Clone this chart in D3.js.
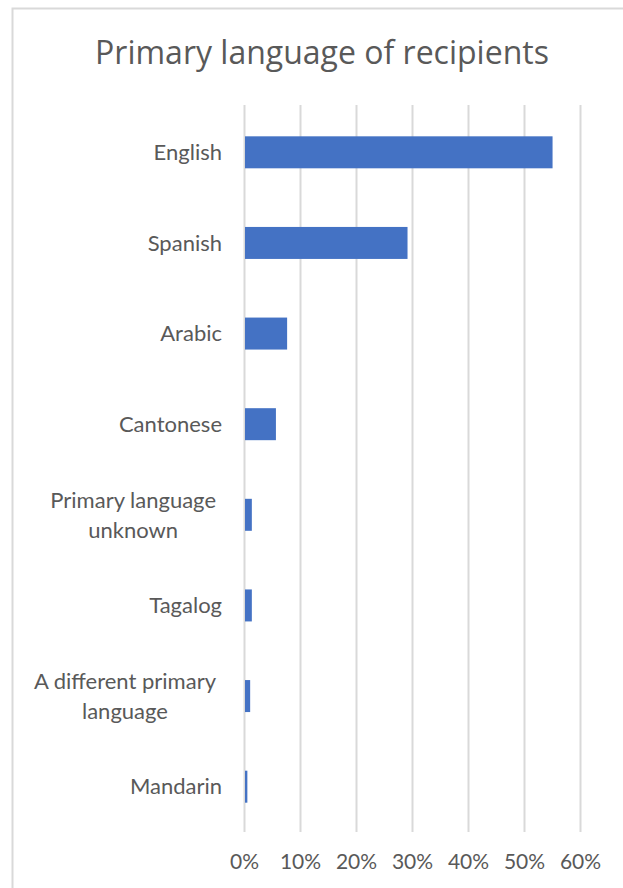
<!DOCTYPE html>
<html>
<head>
<meta charset="utf-8">
<script src="https://cdn.jsdelivr.net/npm/d3@7"></script>
<style>
  html, body { margin: 0; padding: 0; background: #fff; }
  svg { display: block; }
  text { font-family: Lato, "Open Sans", sans-serif; fill: #595959; }
</style>
</head>
<body>
<svg id="chart" width="623" height="888"></svg>
<script>
const title = "Primary language of recipients";
const categories = ["English", "Spanish", "Arabic", "Cantonese", "Primary language unknown", "Tagalog", "A different primary language", "Mandarin"];
const values = [0.551, 0.292, 0.077, 0.057, 0.014, 0.014, 0.011, 0.006];
const tickValues = [0, 0.1, 0.2, 0.3, 0.4, 0.5, 0.6];

const svg = d3.select("#chart");

// chart border
svg.append("rect")
  .attr("x", 12.5).attr("y", 8.5)
  .attr("width", 700).attr("height", 1000)
  .attr("fill", "#fff").attr("stroke", "#d9d9d9").attr("stroke-width", 2);

const x = d3.scaleLinear().domain([0, 0.6]).range([244, 580]);
const y = d3.scaleBand().domain(categories).range([107, 832])
  .paddingInner(0.647).paddingOuter(0.3235);

// gridlines + tick labels
const axis = d3.axisBottom(x).tickValues(tickValues)
  .tickFormat(d3.format(".0%"))
  .tickSize(-(832 - 105)).tickPadding(22);
const gAxis = svg.append("g").attr("transform", "translate(0,832)").call(axis);
gAxis.select(".domain").remove();
gAxis.selectAll(".tick line").attr("stroke", "#d9d9d9").attr("stroke-width", 2);
gAxis.selectAll(".tick text")
  .attr("fill", "#595959").attr("font-size", 21)
  .style("font-family", "Lato, 'Open Sans', sans-serif");

// bars
svg.append("g").selectAll("rect").data(categories).join("rect")
  .attr("x", x(0) + 1)
  .attr("y", d => y(d))
  .attr("width", (d, i) => x(values[i]) - x(0) - 1)
  .attr("height", y.bandwidth())
  .attr("fill", "#4472c4");

// category labels (wrapped, centred block, right-aligned)
const labelG = svg.append("g");
const fs = 22;
const maxW = 195;
categories.forEach(c => {
  const cy = y(c) + y.bandwidth() / 2;
  const t = labelG.append("text").attr("font-size", fs);
  const words = c.split(" ");
  const lines = [];
  let cur = "";
  const meas = labelG.append("text").attr("font-size", fs).attr("visibility", "hidden");
  words.forEach(w => {
    const test = cur ? cur + " " + w : w;
    meas.text(test);
    if (meas.node().getComputedTextLength() > maxW && cur) { lines.push(cur); cur = w; }
    else cur = test;
  });
  lines.push(cur);
  meas.remove();
  const lh = 30;
  if (lines.length === 1) {
    t.attr("x", 222).attr("y", cy).attr("dy", "0.35em").attr("text-anchor", "end").text(lines[0]);
  } else {
    const widths = lines.map(l => { t.text(l); return t.node().getComputedTextLength(); });
    const bw = Math.max(...widths);
    const cx = 220 - bw / 2 - 4;
    t.text(null).attr("text-anchor", "middle");
    lines.forEach((l, i) => {
      t.append("tspan").attr("x", cx)
        .attr("y", cy + (i - (lines.length - 1) / 2) * lh)
        .attr("dy", "0.35em").text(l);
    });
  }
});

// title
svg.append("text").attr("x", 322).attr("y", 64)
  .attr("text-anchor", "middle").attr("font-size", 32)
  .style("font-family", "'Open Sans', Lato, sans-serif")
  .text(title);
</script>
</body>
</html>
